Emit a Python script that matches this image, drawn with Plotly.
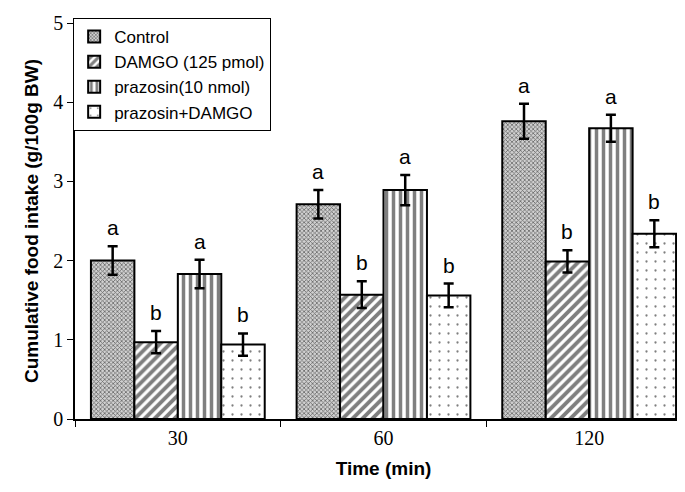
import plotly.graph_objects as go

categories = ["30", "60", "120"]
series_names = ["Control", "DAMGO (125 pmol)", "prazosin(10 nmol)", "prazosin+DAMGO"]
control = [2.00, 2.71, 3.76]
damgo = [0.97, 1.57, 1.99]
prazosin = [1.83, 2.89, 3.67]
praz_damgo = [0.94, 1.56, 2.34]
control_err = [0.18, 0.18, 0.22]
damgo_err = [0.14, 0.17, 0.14]
prazosin_err = [0.18, 0.19, 0.17]
praz_damgo_err = [0.14, 0.15, 0.17]
control_lbl = ["a", "a", "a"]
damgo_lbl = ["b", "b", "b"]
prazosin_lbl = ["a", "a", "a"]
praz_damgo_lbl = ["b", "b", "b"]

values = [control, damgo, prazosin, praz_damgo]
errors = [control_err, damgo_err, prazosin_err, praz_damgo_err]
labels = [control_lbl, damgo_lbl, prazosin_lbl, praz_damgo_lbl]
patterns = [
    dict(shape="x", size=3, solidity=0.45, fgcolor="black", bgcolor="#d0d0d0"),
    dict(shape="/", size=7, solidity=0.55, fgcolor="black", bgcolor="white"),
    dict(shape="|", size=7, solidity=0.5, fgcolor="black", bgcolor="white"),
    dict(shape=".", size=9, solidity=0.05, fgcolor="black", bgcolor="white"),
]

BARGAP = 0.155
fig = go.Figure()
for name, v, e, p in zip(series_names, values, errors, patterns):
    fig.add_trace(go.Bar(
        x=categories, y=v, name=name,
        marker=dict(color="white", pattern=p, line=dict(color="black", width=2)),
        error_y=dict(type="data", array=e, visible=True, color="black", thickness=2.5, width=5),
    ))

n = len(series_names)
bw = (1 - BARGAP) / n
annotations = []
for j, (v, e, lb) in enumerate(zip(values, errors, labels)):
    for i in range(len(categories)):
        annotations.append(dict(
            x=i - (1 - BARGAP) / 2 + bw * (j + 0.5), y=v[i] + e[i], xref="x", yref="y",
            text=lb[i], showarrow=False, yanchor="bottom", yshift=5,
            font=dict(family="Liberation Sans, Arial", size=21, color="black"),
        ))

fig.update_layout(
    width=685, height=492,
    margin=dict(l=67, r=1, t=15, b=81),
    plot_bgcolor="white", paper_bgcolor="white",
    barmode="group", bargap=BARGAP, bargroupgap=0,
    showlegend=True,
    legend=dict(
        x=-0.003, y=1.0126, xanchor="left", yanchor="top",
        bordercolor="black", borderwidth=1, bgcolor="white",
        font=dict(family="Liberation Sans, Arial", size=17, color="black"),
        tracegroupgap=0, traceorder="normal", itemwidth=30,
    ),
    annotations=annotations,
    xaxis=dict(
        type="category", range=[-0.5, 2.5],
        showline=True, linecolor="black", linewidth=1.5,
        ticks="outside", tickson="boundaries", ticklen=6, tickcolor="black",
        tickfont=dict(family="Liberation Serif, Times New Roman", size=20, color="black"),
        title=dict(text="<b>Time (min)</b>", font=dict(family="Liberation Sans, Arial", size=19, color="black"), standoff=14),
        showgrid=False,
    ),
    yaxis=dict(
        range=[0, 5], dtick=1,
        showline=True, linecolor="black", linewidth=1.5,
        ticks="outside", ticklen=6, tickcolor="black",
        tickfont=dict(family="Liberation Serif, Times New Roman", size=20, color="black"),
        title=dict(text="<b>Cumulative food intake (g/100g BW)</b>", font=dict(family="Liberation Sans, Arial", size=19, color="black"), standoff=10),
        showgrid=False, zeroline=False,
    ),
)

fig.write_html("out.html")
